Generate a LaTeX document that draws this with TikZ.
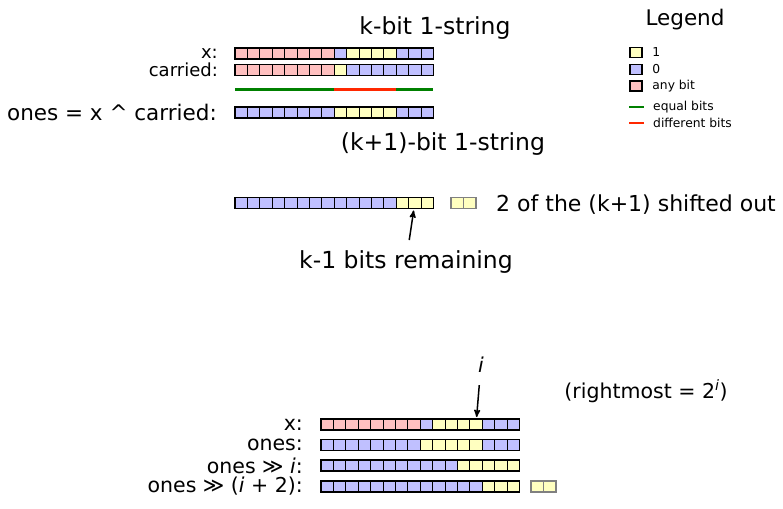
\documentclass[tikz,border=0pt]{standalone}
\usepackage{fontspec}
\setmainfont{DejaVu Sans}
\usetikzlibrary{arrows,positioning}
\definecolor{bity}{RGB}{255,255,192}
\definecolor{bitb}{RGB}{192,192,255}
\definecolor{bitp}{RGB}{255,192,192}
\definecolor{eqgreen}{RGB}{0,128,0}
\definecolor{diffred}{RGB}{255,40,0}
\tikzset{
    %Define standard arrow tip
    >=stealth',
    %Define style for one bit
    bitbox/.style={
           rectangle,
           draw=black, line width=0.8pt,
           minimum width=12.4pt,
           minimum height=11pt,
           inner sep=0pt, outer sep=0pt},
    % thick outline round a row
    bitframe/.style={draw=black, line width=1.8pt},
    % bits that fell off
    shiftbox/.style={bitbox, fill=bity, draw=gray},
    shiftframe/.style={draw=gray, line width=1.8pt},
    % text styles
    rowlabel/.style={inner sep=0pt, font=\fontsize{18}{21}\selectfont},
    botlabel/.style={inner sep=0pt, font=\fontsize{20.5}{24}\selectfont},
    headline/.style={inner sep=0pt, font=\fontsize{23.5}{28}\selectfont},
    legtext/.style={inner sep=0pt, font=\fontsize{12.3}{14}\selectfont},
    % Define line styles
    eqline/.style={draw=eqgreen, line width=2.6pt},
    diffline/.style={draw=diffred, line width=2.6pt},
    pointer/.style={
           ->,
           line width=1.5pt,
           shorten <=10pt,
           shorten >=2pt,}
}
% one row of 16 bits: name, left x, centre y, colours
\newcommand{\bitrow}[4]{%
  \foreach \col [count=\idx] in {#4}
    \node[bitbox, fill=bit\col] (#1-\idx) at ({#2+(\idx-0.5)*12.4},#3) {};
  \draw[bitframe] (#1-1.north west) rectangle (#1-16.south east);
}

\begin{document}
\begin{tikzpicture}[x=1pt,y=-1pt]
\useasboundingbox (0,0) rectangle (783,508);

 %top rows
\bitrow{xa}{235}{53.5}{p,p,p,p,p,p,p,p,b,y,y,y,y,b,b,b}
\bitrow{ca}{235}{70}{p,p,p,p,p,p,p,p,y,b,b,b,b,b,b,b}
\bitrow{on}{235}{112.5}{b,b,b,b,b,b,b,b,y,y,y,y,y,b,b,b}
\node[headline, anchor=base] (khead) at (435,35) {k-bit 1-string};
\node[rowlabel, left=17pt of xa-1] (xlab) {x:};
\node[rowlabel, left=17pt of ca-1] (clab) {carried:};
\node[inner sep=0pt, font=\fontsize{21.5}{25}\selectfont, left=18pt of on-1] (olab) {ones = x \textasciicircum\ carried:};
\draw[eqline] ([yshift=-14pt]ca-1.south west) -- ([yshift=-14pt]ca-8.south east);
\draw[diffline] ([yshift=-14pt]ca-8.south east) -- ([yshift=-14pt]ca-13.south east);
\draw[eqline] ([yshift=-14pt]ca-13.south east) -- ([yshift=-14pt]ca-16.south east);
\node[headline, anchor=base] (k1head) at (443,150) {(k+1)-bit 1-string};

 %legend
\node[inner sep=0pt, font=\fontsize{21.5}{25}\selectfont, anchor=base] (lgtitle) at (685,26) {Legend};
\node[bitbox, fill=bity, line width=1.5pt, minimum height=10pt] (lg1) at (636,52.5) {};
\node[bitbox, fill=bitb, line width=1.5pt, minimum height=10pt] (lg0) at (636,69.5) {};
\node[bitbox, fill=bitp, line width=1.5pt, minimum height=10pt] (lgp) at (636,86) {};
\coordinate (eqa) at (629,107);
\coordinate (eqb) at (644,107);
\coordinate (dfa) at (629,123);
\coordinate (dfb) at (644,123);
\draw[eqline] (eqa) -- (eqb);
\draw[diffline] (dfa) -- (dfb);
\node[legtext, right=10pt of lg1] (lt1) {1};
\node[legtext, right=10pt of lg0] (lt0) {0};
\node[legtext, right=10pt of lgp] (ltp) {any bit};
\node[legtext, right=9pt of eqb] (lteq) {equal bits};
\node[legtext, right=9pt of dfb] (ltdf) {different bits};

 %shifted row
\bitrow{sh}{235}{203}{b,b,b,b,b,b,b,b,b,b,b,b,b,y,y,y}
\node[shiftbox] (so-1) at (457.2,203) {};
\node[shiftbox] (so-2) at (469.6,203) {};
\draw[shiftframe] (so-1.north west) rectangle (so-2.south east);
\node[inner sep=0pt, font=\fontsize{22}{26}\selectfont, anchor=base west] (solab) at (496,211) {2 of the (k+1) shifted out};
\node[headline, anchor=base] (remlab) at (406,268) {k-1 bits remaining};
\path (remlab) edge[pointer] (sh-15);

 %bottom rows
\bitrow{bx}{321}{424.5}{p,p,p,p,p,p,p,p,b,y,y,y,y,b,b,b}
\bitrow{bo}{321}{445}{b,b,b,b,b,b,b,b,y,y,y,y,y,b,b,b}
\bitrow{bs}{321}{465.5}{b,b,b,b,b,b,b,b,b,b,b,y,y,y,y,y}
\bitrow{bt}{321}{486.5}{b,b,b,b,b,b,b,b,b,b,b,b,b,y,y,y}
\node[shiftbox] (to-1) at (537,486.5) {};
\node[shiftbox] (to-2) at (549.4,486.5) {};
\draw[shiftframe] (to-1.north west) rectangle (to-2.south east);
\node[botlabel, left=18pt of bx-1] (bxlab) {x:};
\node[botlabel, left=18pt of bo-1] (bolab) {ones:};
\node[botlabel, left=18pt of bs-1] (bslab) {ones ≫ \textit{i}:};
\node[botlabel, left=18pt of bt-1] (btlab) {ones ≫ (\textit{i} + 2):};
\node[botlabel, anchor=base] (ilab) at (481,372) {\textit{i}};
\node[botlabel, anchor=base] (rmlab) at (646,398) {(rightmost = 2\textsuperscript{\textit{i}})};
\path (ilab) edge[pointer, shorten <=13pt] (bx-13);

\end{tikzpicture}
\end{document}
